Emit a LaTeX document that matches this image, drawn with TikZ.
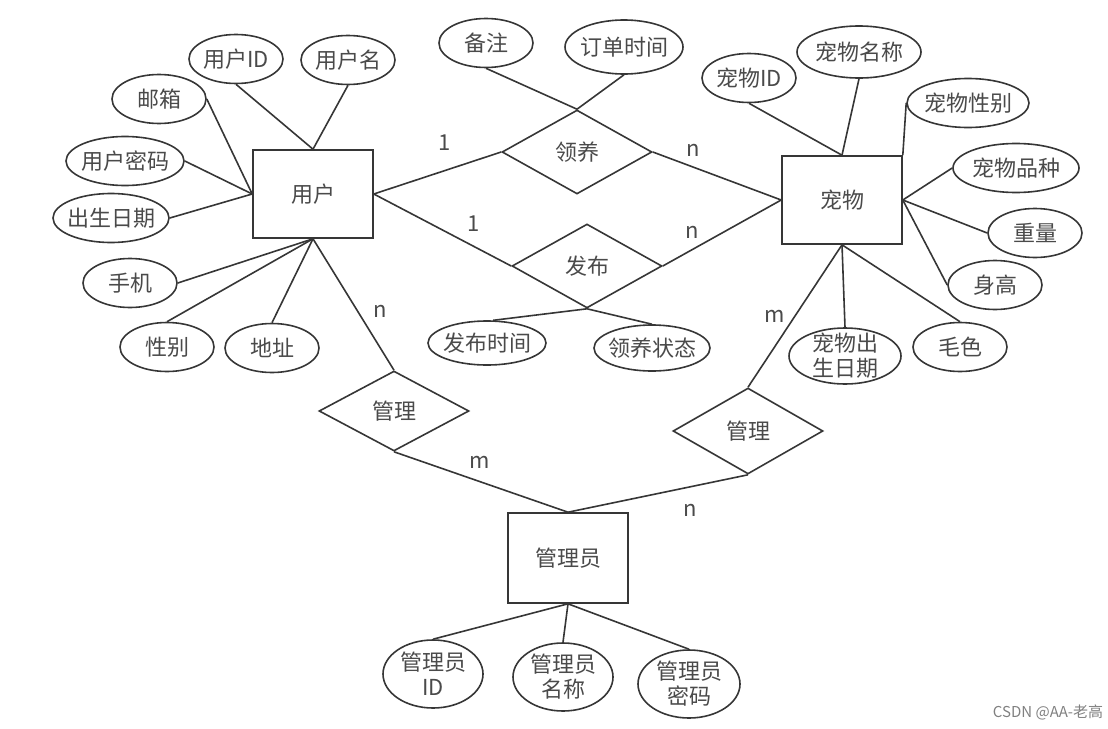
\documentclass[tikz,border=0pt]{standalone}
\usepackage{fontspec}
\setmainfont{Noto Sans CJK SC}
\usepackage{xcolor}
\usepackage{tikz}
\usetikzlibrary{shapes.geometric}

\definecolor{ink}{HTML}{363636}
\definecolor{txt}{HTML}{4A4A4A}

\begin{document}
\begin{tikzpicture}[x=0.5pt, y=-0.5pt, line width=0.8pt, draw=ink,
    every node/.style={text=txt, font=\fontsize{11}{12.5}\selectfont},
    ent/.style={rectangle, draw=ink, minimum width=60pt, minimum height=44pt},
    rel/.style={diamond, draw=ink, inner sep=0pt, minimum width=75pt, minimum height=42pt},
    attr/.style={ellipse, draw=ink, inner xsep=-3pt, inner ysep=0pt, minimum width=47pt, minimum height=24.5pt, align=center},
    wide/.style={attr, minimum width=59pt},
    tall/.style={attr, inner ysep=-3pt, minimum width=50pt, minimum height=34pt}]
    \useasboundingbox (0,0) rectangle (1108,728);

    \node[ent] (user) at (313,194) {用户};
    \node[ent] (pet) at (842,200) {宠物};
    \node[ent, minimum height=45pt] (admin) at (568,558) {管理员};

    \node[rel] (adopt) at (577,152) {领养};
    \node[rel] (pub) at (587,266) {发布};
    \node[rel, minimum height=40pt] (mng1) at (394,411) {管理};
    \node[rel, minimum height=43pt] (mng2) at (748,431) {管理};

    \node[attr] (uid) at (236,59) {用户ID};
    \node[attr] (uname) at (348,60) {用户名};
    \node[attr] (umail) at (159,99) {邮箱};
    \node[wide] (upwd) at (125,161) {用户密码};
    \node[wide, minimum width=58pt] (ubirth) at (111,218) {出生日期};
    \node[attr] (uphone) at (130,283) {手机};
    \node[attr] (usex) at (167,347) {性别};
    \node[attr] (uaddr) at (272,348) {地址};

    \node[attr] (remark) at (486,43) {备注};
    \node[wide, minimum height=27pt] (otime) at (624,47) {订单时间};
    \node[wide, minimum height=22pt] (ptime) at (487,343) {发布时间};
    \node[wide, minimum width=58pt, minimum height=23pt] (pstate) at (652,348) {领养状态};

    \node[attr] (pid) at (749,78) {宠物ID};
    \node[wide, minimum width=62pt, minimum height=26pt] (pname) at (859,52) {宠物名称};
    \node[wide, minimum width=61pt] (pgender) at (968,103) {宠物性别};
    \node[wide, minimum width=63pt] (pbreed) at (1016,168) {宠物品种};
    \node[attr] (pweight) at (1035,233) {重量};
    \node[attr] (pheight) at (995,285) {身高};
    \node[attr] (pcolor) at (960,347) {毛色};
    \node[tall, minimum width=56pt, minimum height=28pt, inner ysep=-5pt] (pbirth) at (845,356) {宠物出\\生日期};

    \node[tall] (aid) at (433,674) {管理员\\ID};
    \node[tall] (aname) at (563,677) {管理员\\名称};
    \node[tall, minimum width=51pt] (apwd) at (689,684) {管理员\\密码};

    \draw (uid.south) -- (user.north);
    \draw (uname.south) -- (user.north);
    \draw (umail.east) -- (user.west);
    \draw (upwd.east) -- (user.west);
    \draw (ubirth.east) -- (user.west);
    \draw (uphone.east) -- (user.south);
    \draw (usex.north) -- (user.south);
    \draw (uaddr.north) -- (user.south);

    \draw (remark.south) -- (adopt.north);
    \draw (otime.south) -- (adopt.north);
    \draw (ptime.75) -- (pub.south);
    \draw (pstate.north) -- (pub.south);

    \draw (pid.south) -- (pet.north);
    \draw (pname.south) -- (pet.north);
    \draw (pgender.west) -- (pet.north east);
    \draw (pbreed.west) -- (pet.east);
    \draw (pweight.west) -- (pet.east);
    \draw (pheight.west) -- (pet.east);
    \draw (pcolor.north) -- (pet.south);
    \draw (pbirth.north) -- (pet.south);

    \draw (aid.north) -- (admin.south);
    \draw (aname.north) -- (admin.south);
    \draw (apwd.north) -- (admin.south);

    \draw (user.east) -- (adopt.west);
    \draw (adopt.east) -- (pet.west);
    \draw (user.east) -- (pub.west);
    \draw (pub.east) -- (pet.west);
    \draw (user.south) -- (mng1.north);
    \draw (mng1.south) -- (admin.north);
    \draw (pet.south) -- (mng2.north);
    \draw (mng2.south) -- (admin.north);

    \node (c1) at (445,143) {1};
    \node (c2) at (693,150) {n};
    \node (c3) at (474,224) {1};
    \node (c4) at (692,232) {n};
    \node (c5) at (380,311) {n};
    \node (c6) at (480,462) {m};
    \node (c7) at (775,316) {m};
    \node (c8) at (690,510) {n};

    \node[text=gray, font=\fontsize{7.5}{9}\selectfont] (mark) at (1048,712) {CSDN @AA-老高};
\end{tikzpicture}
\end{document}
